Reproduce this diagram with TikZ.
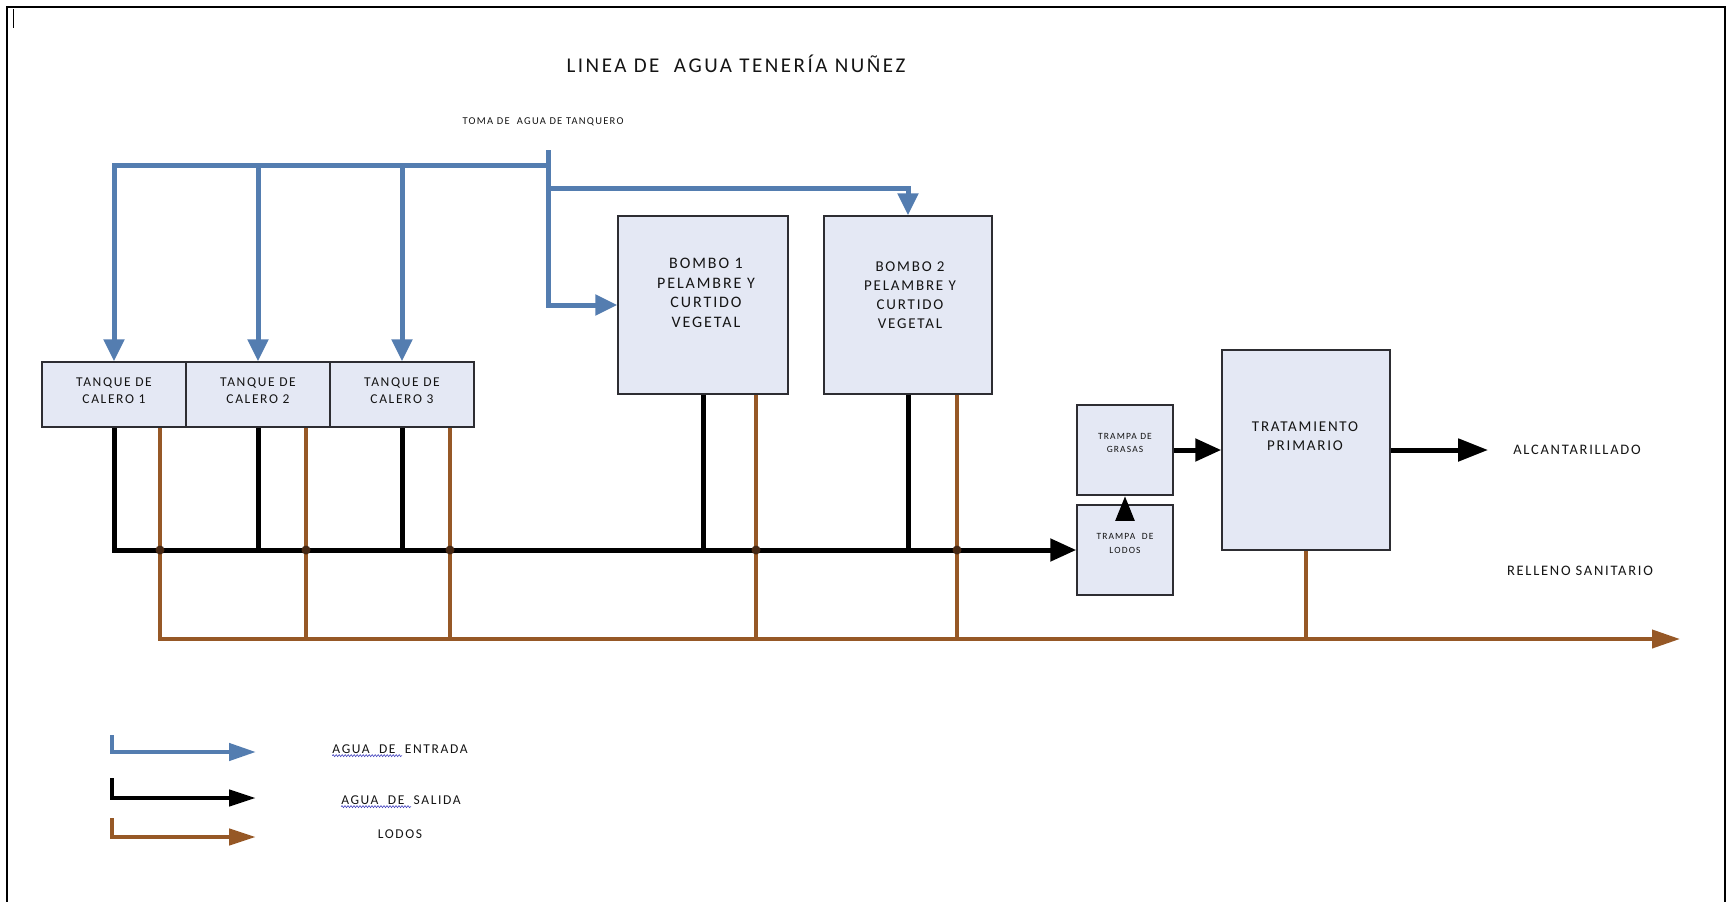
\documentclass[tikz,border=0pt]{standalone}
\usepackage{fontspec}
\setmainfont{Carlito}[LetterSpace=12]
\usetikzlibrary{arrows.meta,decorations.pathmorphing}
\definecolor{aguablue}{RGB}{84,125,176}
\definecolor{lodobrown}{RGB}{150,88,38}
\definecolor{lododark}{RGB}{70,40,20}
\definecolor{boxfill}{RGB}{228,232,244}
\definecolor{boxline}{RGB}{45,45,50}
\definecolor{textgray}{RGB}{20,20,20}
\definecolor{wavyblue}{RGB}{70,70,190}
\tikzset{%
	block/.style    = {draw=boxline, line width=1.5pt, fill=boxfill, rectangle, inner sep=0pt}, % Proceso
	rotulo/.style   = {align=center, text=textgray, inner sep=0pt}, % Texto
	entrada/.style  = {draw=aguablue, line width=5pt, -{Triangle[length=22pt,width=20pt]}}, % Agua de entrada
	salida/.style   = {draw=black, line width=5pt, -{Triangle[length=26pt,width=22pt]}}, % Agua de salida
	lodo/.style     = {draw=lodobrown, line width=4pt} % Lodos
}

\begin{document}
\begin{tikzpicture}[x=1pt,y=-1pt]
	\useasboundingbox (0,0) rectangle (1727,902);
	
	% marco
	\draw[line width=2pt] (7,902) -- (7,7) -- (1725,7) -- (1725,902);
	\draw[line width=1pt] (13,9) -- (13,28);
	
	\node[rotulo, font=\fontsize{21}{24}\selectfont] at (736,64) (titulo) {LINEA DE \ AGUA TENERÍA NUÑEZ};
	\node[rotulo, font=\fontsize{10.5}{12}\selectfont] at (543,122) (toma) {TOMA DE \ AGUA DE TANQUERO};
	
	\node[block, minimum width=144pt, minimum height=65pt] at (114,394.5) (tanque1) {};
	\node[block, minimum width=144pt, minimum height=65pt] at (258,394.5) (tanque2) {};
	\node[block, minimum width=144pt, minimum height=65pt] at (402,394.5) (tanque3) {};
	\node[block, minimum width=170pt, minimum height=178pt] at (703,305) (bombo1) {};
	\node[block, minimum width=168pt, minimum height=178pt] at (908,305) (bombo2) {};
	\node[block, minimum width=96pt, minimum height=90pt] at (1125,450) (grasas) {};
	\node[block, minimum width=96pt, minimum height=90pt] at (1125,550) (lodos) {};
	\node[block, minimum width=168pt, minimum height=200pt] at (1306,450) (trat) {};
	
	\node[rotulo, font=\fontsize{13.5}{17}\selectfont] at (114,391) (tanque1txt) {TANQUE DE\\CALERO 1};
	\node[rotulo, font=\fontsize{13.5}{17}\selectfont] at (258,391) (tanque2txt) {TANQUE DE\\CALERO 2};
	\node[rotulo, font=\fontsize{13.5}{17}\selectfont] at (402,391) (tanque3txt) {TANQUE DE\\CALERO 3};
	\node[rotulo, font=\fontsize{16}{19.5}\selectfont] at (706,293) (bombo1txt) {BOMBO 1\\PELAMBRE Y\\CURTIDO\\VEGETAL};
	\node[rotulo, font=\fontsize{15}{19}\selectfont] at (910,295) (bombo2txt) {BOMBO 2\\PELAMBRE Y\\CURTIDO\\VEGETAL};
	\node[rotulo, font=\fontsize{9.5}{12.5}\selectfont] at (1125,443) (grasastxt) {TRAMPA DE\\GRASAS};
	\node[rotulo, font=\fontsize{9.5}{14}\selectfont] at (1125,543) (lodostxt) {TRAMPA \ DE\\LODOS};
	\node[rotulo, font=\fontsize{15}{19}\selectfont] at (1305,436) (tratxt) {TRATAMIENTO\\PRIMARIO};
	\node[rotulo, font=\fontsize{14.5}{17}\selectfont] at (1577,450) (alcant) {ALCANTARILLADO};
	\node[rotulo, font=\fontsize{14.5}{17}\selectfont] at (1580,571) (relleno) {RELLENO SANITARIO};
	
	\coordinate (tomaT) at (548,150);
	\coordinate (tomaJ) at (548,165);
	\coordinate (ramal) at (548,188);
	\coordinate (rellenoFin) at (1680,639);
	
	% agua de entrada
	\draw[entrada] (tomaJ) -| (tanque1.north);
	\draw[entrada] (tanque2.north |- tomaJ) -- (tanque2.north);
	\draw[entrada] (tanque3.north |- tomaJ) -- (tanque3.north);
	\draw[entrada] (tomaT) |- (bombo1.west);
	\draw[entrada] (ramal) -| (bombo2.north);
	
	% lodos
	\draw[lodo, -{Triangle[length=28pt,width=18pt]}] ([xshift=46pt]tanque1.south) |- (rellenoFin);
	\draw[lodo] ([xshift=48pt]tanque2.south) -- ([xshift=48pt]tanque2.south |- rellenoFin);
	\draw[lodo] ([xshift=48pt]tanque3.south) -- ([xshift=48pt]tanque3.south |- rellenoFin);
	\draw[lodo] ([xshift=53pt]bombo1.south) -- ([xshift=53pt]bombo1.south |- rellenoFin);
	\draw[lodo] ([xshift=49pt]bombo2.south) -- ([xshift=49pt]bombo2.south |- rellenoFin);
	\draw[lodo] (trat.south) -- (trat.south |- rellenoFin);
	
	% agua de salida
	\draw[salida] (tanque1.south) |- (lodos.west);
	\draw[salida, -] (tanque2.south) -- (tanque2.south |- lodos.west);
	\draw[salida, -] (tanque3.south) -- (tanque3.south |- lodos.west);
	\draw[salida, -] (bombo1.south) -- (bombo1.south |- lodos.west);
	\draw[salida, -] (bombo2.south) -- (bombo2.south |- lodos.west);
	\fill[lododark] ([xshift=46pt]tanque1.south |- lodos.west) circle (4.5pt);
	\fill[lododark] ([xshift=48pt]tanque2.south |- lodos.west) circle (4.5pt);
	\fill[lododark] ([xshift=48pt]tanque3.south |- lodos.west) circle (4.5pt);
	\fill[lododark] ([xshift=53pt]bombo1.south |- lodos.west) circle (4.5pt);
	\fill[lododark] ([xshift=49pt]bombo2.south |- lodos.west) circle (4.5pt);
	\draw[salida, -{Triangle[length=25pt,width=18pt]}] ([yshift=-15pt]lodos.north) -- (grasas.south);
	\draw[salida] (grasas.east) -- (trat.west |- grasas.east);
	\draw[salida, -{Triangle[length=30pt,width=22pt]}] (trat.east) -- ([xshift=-25pt]alcant.west);
	
	% leyenda
	\node[rotulo, font=\fontsize{13.5}{16}\selectfont] at (400,749) (legEntrada) {AGUA \ DE \ ENTRADA};
	\node[rotulo, font=\fontsize{13.5}{16}\selectfont] at (401,800) (legSalida) {AGUA \ DE \ SALIDA};
	\node[rotulo, font=\fontsize{13.5}{16}\selectfont] at (400,834) (legLodos) {LODOS};
	\coordinate (legA) at (112,735);
	\coordinate (legB) at (112,778);
	\coordinate (legC) at (112,818);
	\draw[entrada, line width=4.5pt, -{Triangle[length=27pt,width=17pt]}] (legA) |- (256,752);
	\draw[salida, line width=4.5pt, -{Triangle[length=27pt,width=16pt]}] (legB) |- (256,798);
	\draw[lodo, line width=4.5pt, -{Triangle[length=27pt,width=16pt]}] (legC) |- (256,837);
	\draw[wavyblue, line width=0.6pt, decorate, decoration={snake, amplitude=1pt, segment length=3pt}] ([yshift=-2pt]legEntrada.south west) -- ++(70,0);
	\draw[wavyblue, line width=0.6pt, decorate, decoration={snake, amplitude=1pt, segment length=3pt}] ([yshift=-2pt]legSalida.south west) -- ++(70,0);
	
\end{tikzpicture}
\end{document}
